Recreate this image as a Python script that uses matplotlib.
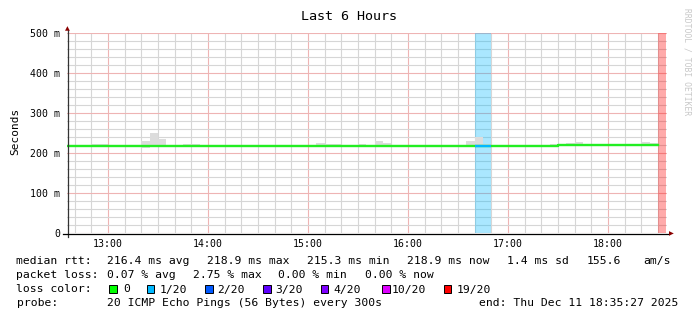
import numpy as np
import pandas as pd
import matplotlib
matplotlib.use("Agg")
import matplotlib.pyplot as plt
import matplotlib.dates as mdates
from matplotlib.patches import Rectangle
from matplotlib.lines import Line2D

plt.rcParams['font.family'] = ['DejaVu Sans Mono']

W, H = 697, 321

# 5 minute bins, 12:35 .. 18:30
bin_times = pd.date_range("2025-12-11 12:35", "2025-12-11 18:30", freq="5min")

nan = np.nan
# median rtt per bin (ms)
median_ms = [
    218.7, 218.7, 218.7, 218.7, 218.7, 218.7, 218.7, 218.7, 218.7, 216.3, 216.3, 216.3,
    216.3, 216.3, 216.3, 216.3, 216.3, 216.3, 216.3, 216.3, 216.3, 216.3, 216.3, 216.3,
    216.3, 216.3, 216.3, 216.3, 216.3, 216.3, 216.3, 216.3, 216.3, 216.3, 216.3, 216.3,
    216.3, 216.3, 216.3, 216.3, 216.3, 216.3, 216.3, 216.3, 216.3, 216.3, 216.3, 216.3,
    216.3, 216.3, 216.3, 216.3, 216.3, 216.3, 216.3, 216.3, 216.3, 216.3, 218.0, 219.0,
    219.0, 219.0, 219.0, 219.0, 219.0, 219.0, 219.0, 219.0, 219.0, 219.0, 219.0, nan,
]
# smoke (ping spread) top / bottom per bin (ms)
smoke_top_ms = [
    220.2, 220.2, 220.2, 223.0, 223.0, 220.2, 220.2, 220.2, 220.2, 230.0, 250.0, 236.0,
    217.8, 217.8, 221.7, 221.7, 217.8, 217.8, 217.8, 217.8, 217.8, 217.8, 217.8, 217.8,
    219.5, 219.5, 220.5, 220.5, 217.8, 217.8, 224.0, 222.0, 222.0, 217.8, 217.8, 222.0,
    217.8, 229.0, 226.0, 217.8, 217.8, 217.8, 217.8, 217.8, 217.8, 217.8, 217.8, 217.8,
    230.0, 239.0, 222.0, 217.8, 217.8, 217.8, 217.8, 217.8, 217.8, 217.8, 222.0, 220.5,
    225.0, 227.5, 220.5, 220.5, 220.5, 220.5, 220.5, 220.5, 220.5, 227.5, 226.0, nan,
]
smoke_bot_ms = [
    217.2, 217.2, 217.2, 217.2, 217.2, 217.2, 217.2, 217.2, 217.2, 213.0, 214.8, 214.8,
    214.8, 214.8, 214.8, 214.8, 214.8, 214.8, 214.8, 214.8, 214.8, 214.8, 214.8, 214.8,
    214.8, 214.8, 214.8, 214.8, 214.8, 214.8, 214.8, 214.8, 214.8, 214.8, 214.8, 214.8,
    214.8, 214.8, 214.8, 214.8, 214.8, 214.8, 214.8, 214.8, 214.8, 214.8, 214.8, 214.8,
    214.8, 214.8, 214.8, 214.8, 214.8, 214.8, 214.8, 214.8, 214.8, 214.8, 216.5, 217.5,
    217.5, 217.5, 217.5, 217.5, 217.5, 217.5, 217.5, 217.5, 217.5, 217.5, 217.5, nan,
]
# lost pings out of 20 per bin
loss = [
    0, 0, 0, 0, 0, 0, 0, 0, 0, 0, 0, 0,
    0, 0, 0, 0, 0, 0, 0, 0, 0, 0, 0, 0,
    0, 0, 0, 0, 0, 0, 0, 0, 0, 0, 0, 0,
    0, 0, 0, 0, 0, 0, 0, 0, 0, 0, 0, 0,
    0, 1, 1, 0, 0, 0, 0, 0, 0, 0, 0, 0,
    0, 0, 0, 0, 0, 0, 0, 0, 0, 0, 0, 19,
]

loss_levels = [0, 1, 2, 3, 4, 10, 19]
loss_labels = ["0", "1/20", "2/20", "3/20", "4/20", "10/20", "19/20"]
loss_colors = ["#00ff00", "#00b8ff", "#0059ff", "#5e00ff", "#7e00ff", "#dd00ff", "#ff0000"]


def loss_color(n):
    c = loss_colors[0]
    for lv, col in zip(loss_levels, loss_colors):
        if n >= lv:
            c = col
    return c


x0 = mdates.date2num(bin_times)
step = 5 / (24 * 60)
med = np.array(median_ms) / 1000
top = np.array(smoke_top_ms) / 1000
bot = np.array(smoke_bot_ms) / 1000

fig = plt.figure(figsize=(W / 100, H / 100), dpi=100)
fig.patch.set_facecolor("white")
ax = fig.add_axes([67 / W, (H - 233) / H, 600 / W, 200 / H])

t_start = pd.Timestamp("2025-12-11 12:35:27")
t_end = pd.Timestamp("2025-12-11 18:35:27")
ax.set_xlim(mdates.date2num(t_start), mdates.date2num(t_end))
ax.set_ylim(0, 0.5)

# grid
ax.xaxis.set_major_locator(mdates.HourLocator())
ax.xaxis.set_minor_locator(mdates.MinuteLocator(byminute=range(0, 60, 10)))
ax.xaxis.set_major_formatter(mdates.DateFormatter("%H:%M"))
ax.set_yticks([0, 0.1, 0.2, 0.3, 0.4, 0.5])
ax.set_yticklabels(["0", "100 m", "200 m", "300 m", "400 m", "500 m"])
ax.set_yticks(np.arange(0, 0.5, 0.02), minor=True)
ax.grid(which="minor", color="#d6d6d6", linewidth=0.8)
ax.grid(which="major", color="#eeb4b4", linewidth=0.8)
ax.set_axisbelow(True)

# loss bars
for xi, n in zip(x0, loss):
    if n > 0:
        ax.bar(xi, 0.5, width=step, align="edge", color=loss_color(n),
               alpha=1 / 3, linewidth=0, zorder=2)

# smoke
ax.bar(x0, top - bot, bottom=bot, width=step, align="edge",
       color="#dcdcdc", linewidth=0, zorder=3)

# median line
xe = np.append(x0, x0[-1] + step)
ax.step(xe, np.append(med, med[-1]), where="post", color="#22ee22", lw=1.7, zorder=4)
for xi, m, n in zip(x0, med, loss):
    if n > 0 and not np.isnan(m):
        ax.plot([xi, xi + step], [m, m], color=loss_color(n), lw=1.7,
                solid_capstyle="butt", zorder=5)

for s in ["top", "right", "left", "bottom"]:
    ax.spines[s].set_visible(False)

ax.tick_params(axis="both", which="both", labelsize=7.1, length=0)
ax.tick_params(axis="y", pad=5)
ax.tick_params(axis="x", pad=4)

# axes lines running out to the arrows
fig.add_artist(Line2D([67.5 / W, 67.5 / W], [1 - 237 / H, 1 - 30 / H],
                      color="#333333", lw=0.9))
fig.add_artist(Line2D([63 / W, 669 / W], [1 - 233.5 / H, 1 - 233.5 / H],
                      color="#000000", lw=0.9))
fig.text(67.5 / W, 1 - 29 / H, "▲", color="#8b0000", fontsize=4.5,
         ha="center", va="center", family=["DejaVu Sans"])
fig.text(671 / W, 1 - 233.5 / H, "▶", color="#8b0000", fontsize=4.5,
         ha="center", va="center", family=["DejaVu Sans"])

# titles and labels
fig.text(349 / W, 1 - 16 / H, "Last 6 Hours", fontsize=9.6, ha="center", va="center")
fig.text(15 / W, 1 - 131 / H, "Seconds", fontsize=8, rotation=90,
         ha="center", va="center")
fig.text(687 / W, 1 - 62 / H, "RRDTOOL / TOBI OETIKER", fontsize=5.8, rotation=270,
         ha="center", va="center", color="#c8c8c8")

fs = 8.2


def put(x, y, s):
    fig.text(x / W, 1 - y / H, s, fontsize=fs, ha="left", va="center")


put(16.5, 261, "median rtt:")
put(106.7, 261, "216.4 ms avg")
put(206.7, 261, "218.9 ms max")
put(306.7, 261, "215.3 ms min")
put(407, 261, "218.9 ms now")
put(507, 261, "1.4 ms sd")
put(586.3, 261, "155.6")
put(643, 261, "am/s")

put(16.5, 275.5, "packet loss:")
put(107.3, 275.5, "0.07 % avg")
put(192.7, 275.5, "2.75 % max")
put(278.3, 275.5, "0.00 % min")
put(365.3, 275.5, "0.00 % now")

put(16.5, 289.5, "loss color:")
box_x = [109.3, 146.7, 205, 263.3, 320.7, 382, 443.7]
lab_x = [123.3, 159.3, 216.7, 275.3, 333.3, 392, 457]
for bx, lx, lab, col in zip(box_x, lab_x, loss_labels, loss_colors):
    fig.patches.append(Rectangle((bx / W, 1 - 292.5 / H), 7.5 / W, 7.5 / H,
                                 transform=fig.transFigure, facecolor=col,
                                 edgecolor="black", linewidth=0.7))
    put(lx, 289.5, lab)

put(16.5, 303.5, "probe:")
put(106.7, 303.5, "20 ICMP Echo Pings (56 Bytes) every 300s")
put(478.7, 303.5, "end: Thu Dec 11 18:35:27 2025")

fig.savefig("out.png", dpi=100, facecolor="white")
